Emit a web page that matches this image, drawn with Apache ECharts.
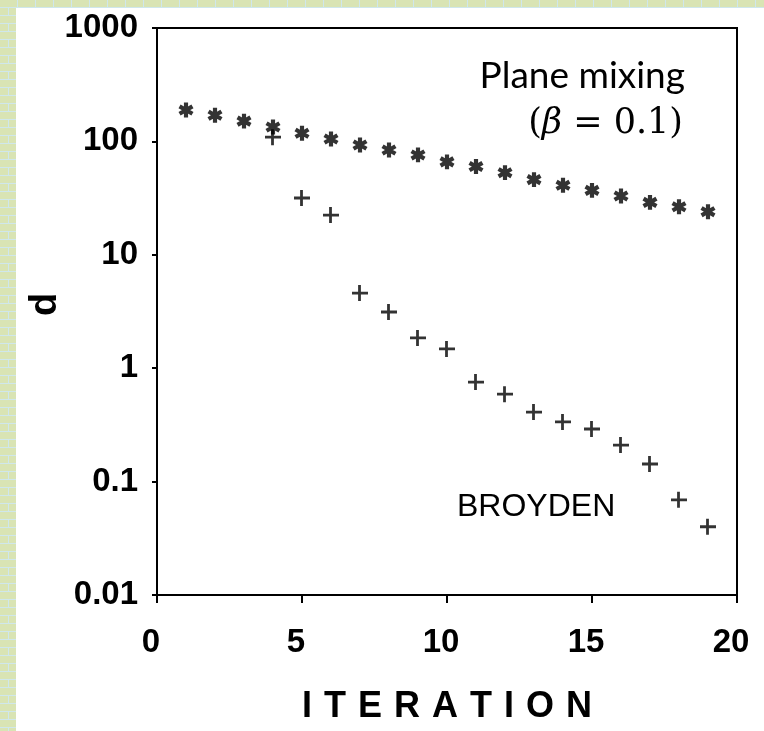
<!DOCTYPE html>
<html>
<head>
<meta charset="utf-8">
<script src="https://cdn.jsdelivr.net/npm/echarts@6/dist/echarts.min.js"></script>
<style>
  html, body { margin: 0; padding: 0; width: 764px; height: 731px; overflow: hidden; }
  body {
    background-color: #cfe7ec;
    background-image: url("data:image/svg+xml;utf8,<svg xmlns='http://www.w3.org/2000/svg' width='18' height='16'><rect width='18' height='16' fill='%23cfe7ec'/><rect x='0' y='0' width='17' height='7' fill='%23d9e4b4'/><rect x='-9' y='8' width='17' height='7' fill='%23d9e4b4'/><rect x='9' y='8' width='17' height='7' fill='%23d9e4b4'/></svg>");
    position: relative;
  }
  #paper { position: absolute; left: 16px; top: 8px; right: 0; bottom: 0; background: #ffffff; }
  #chart { position: absolute; left: 0; top: 0; width: 764px; height: 731px; }
</style>
</head>
<body>
<div id="paper"></div>
<div id="chart"></div>
<script>
// ---- data ----
const planeIter = [1, 2, 3, 4, 5, 6, 7, 8, 9, 10, 11, 12, 13, 14, 15, 16, 17, 18, 19];
const planeMixing = [189, 170, 151, 134, 118, 105, 93, 84, 76, 66, 60, 53, 46, 41, 37, 33, 29, 26.5, 24];
const broydenIter = [4, 5, 6, 7, 8, 9, 10, 11, 12, 13, 14, 15, 16, 17, 18, 19];
const broyden = [109, 31.7, 22.4, 4.6, 3.13, 1.85, 1.48, 0.755, 0.59, 0.41, 0.336, 0.291, 0.21, 0.143, 0.069, 0.040];
const xTickLabels = ['0', '5', '10', '15', '20'];
const yTickLabels = ['0.01', '0.1', '1', '10', '100', '1000'];
const xTitle = 'ITERATION';
const yTitle = 'd';

// ---- marker shapes ----
function asteriskPath(L, w) {
  let p = '';
  [90, 30, 150].forEach(function (deg) {
    const a = deg * Math.PI / 180;
    const dx = Math.cos(a), dy = Math.sin(a);
    const nx = -dy, ny = dx;
    const h = L / 2, t = w / 2;
    const pts = [
      [dx * h + nx * t, dy * h + ny * t],
      [dx * h - nx * t, dy * h - ny * t],
      [-dx * h - nx * t, -dy * h - ny * t],
      [-dx * h + nx * t, -dy * h + ny * t]
    ];
    p += 'M' + pts.map(function (q) { return (q[0] + 10).toFixed(3) + ',' + (q[1] + 10).toFixed(3); }).join('L') + 'Z';
  });
  return 'path://' + p;
}
const starSymbol = asteriskPath(15, 4.2);
const plusSymbol = 'path://M0,6.1L16,6.1L16,8.9L0,8.9ZM6.1,-0.5L8.9,-0.5L8.9,15.5L6.1,15.5Z';

function pairs(xs, ys) { return xs.map(function (x, i) { return [x, ys[i]]; }); }

const chart = echarts.init(document.getElementById('chart'), null, { renderer: 'canvas' });
const axisFont = '"Liberation Sans", Arial, sans-serif';
const titleFont = '"Liberation Sans", Arial, sans-serif';

chart.setOption({
  backgroundColor: 'transparent',
  animation: false,
  grid: { left: 157, right: 27, top: 28, bottom: 136, show: true, borderColor: '#000', borderWidth: 2, backgroundColor: 'transparent' },
  xAxis: {
    type: 'value', min: 0, max: 20, interval: 5,
    axisLine: { show: true, onZero: false, lineStyle: { color: '#000', width: 2 } },
    axisTick: { show: true, inside: false, length: 8, lineStyle: { color: '#000', width: 2 } },
    splitLine: { show: false },
    axisLabel: {
      margin: 31, color: '#000', fontFamily: axisFont, fontWeight: 'bold', fontSize: 33,
      padding: [0, 12, 0, 0],
      formatter: function (v) { return xTickLabels[Math.round(v / 5)]; }
    },
    name: xTitle.split('').map(function (c) { return '{s|' + c + '}'; }).join(''),
    nameLocation: 'middle', nameGap: 94,
    nameTextStyle: {
      color: '#000', fontFamily: titleFont, fontWeight: 'bold', fontSize: 36,
      rich: { s: { fontFamily: titleFont, fontWeight: 'bold', fontSize: 36, color: '#000', padding: [0, 6, 0, 6] } }
    }
  },
  yAxis: {
    type: 'log', logBase: 10, min: 0.01, max: 1000,
    axisLine: { show: true, onZero: false, lineStyle: { color: '#000', width: 2 } },
    axisTick: { show: true, inside: false, length: 5, lineStyle: { color: '#000', width: 2 } },
    splitLine: { show: false },
    minorTick: { show: false },
    axisLabel: {
      margin: 19, color: '#000', fontFamily: axisFont, fontWeight: 'bold', fontSize: 33,
      formatter: function (v) { return yTickLabels[Math.round(Math.log10(v)) + 2]; }
    },
    name: yTitle, nameLocation: 'middle', nameGap: 92, nameRotate: 90, nameMoveOverlap: false,
    nameTextStyle: { color: '#000', fontFamily: titleFont, fontWeight: 'bold', fontSize: 38, padding: [0, 0, 0, 14] }
  },
  series: [
    {
      name: 'Plane mixing', type: 'scatter', data: pairs(planeIter, planeMixing),
      symbol: starSymbol, symbolSize: 15, symbolKeepAspect: true,
      itemStyle: { color: '#000' }
    },
    {
      name: 'BROYDEN', type: 'scatter', data: pairs(broydenIter, broyden),
      symbol: plusSymbol, symbolSize: 16,
      itemStyle: { color: '#000' }
    }
  ],
  graphic: [
    { type: 'text', x: 685, y: 76, style: { text: 'Plane mixing', fill: '#000', font: '37px Lato, "Noto Sans", sans-serif', align: 'right', verticalAlign: 'middle' } },
    { type: 'text', x: 683, y: 124, style: {
        text: '{p|(}{b|\u03B2}{p| = 0.1)}', fill: '#000', align: 'right', verticalAlign: 'middle',
        rich: {
          p: { fontFamily: '"DejaVu Serif", "Liberation Serif", serif', fontSize: 35, fill: '#000' },
          b: { fontFamily: '"DejaVu Serif", "Liberation Serif", serif', fontStyle: 'italic', fontSize: 35, fill: '#000' }
        }
      } },
    { type: 'text', x: 457, y: 507, style: { text: 'BROYDEN', fill: '#000', font: '32px "Liberation Sans", Arial, sans-serif', align: 'left', verticalAlign: 'middle' } }
  ]
});
</script>
</body>
</html>
